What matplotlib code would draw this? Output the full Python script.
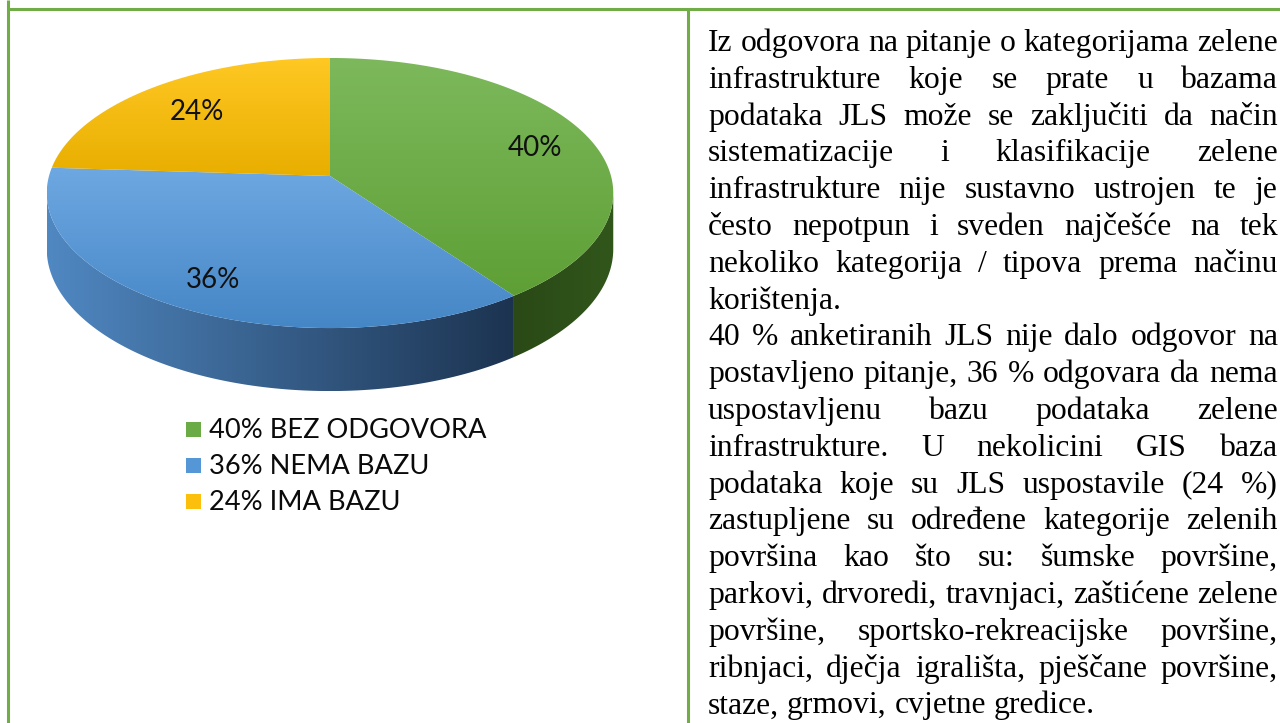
import numpy as np
import matplotlib
matplotlib.use("Agg")
import matplotlib.pyplot as plt
from matplotlib.patches import Polygon, Rectangle
from matplotlib.colors import LinearSegmentedColormap

# pie data
shares = [40, 36, 24]
legend_labels = ["40% BEZ ODGOVORA", "36% NEMA BAZU", "24% IMA BAZU"]
pct_labels = ["40%", "36%", "24%"]
base_colors = ["#6AAB45", "#5596D6", "#FCBF0C"]
top_grads = [("#7DB95C", "#5E9F35"), ("#6EA8E2", "#4586C6"), ("#FFC823", "#E8AE00")]
side_grads = [("#2A4916", "#31561B"), ("#5088C2", "#1C3350"), ("#C89600", "#9A7200")]

# text in the right cell (line breaks as in the reference)
text_lines = [
    "Iz odgovora na pitanje o kategorijama zelene",
    "infrastrukture koje se prate u bazama",
    "podataka JLS može se zaključiti da način",
    "sistematizacije i klasifikacije zelene",
    "infrastrukture nije sustavno ustrojen te je",
    "često nepotpun i sveden najčešće na tek",
    "nekoliko kategorija / tipova prema načinu",
    "korištenja.",
    "40 % anketiranih JLS nije dalo odgovor na",
    "postavljeno pitanje, 36 % odgovara da nema",
    "uspostavljenu bazu podataka zelene",
    "infrastrukture. U nekolicini GIS baza",
    "podataka koje su JLS uspostavile (24 %)",
    "zastupljene su određene kategorije zelenih",
    "površina kao što su: šumske površine,",
    "parkovi, drvoredi, travnjaci, zaštićene zelene",
    "površine, sportsko-rekreacijske površine,",
    "ribnjaci, dječja igrališta, pješčane površine,",
    "staze, grmovi, cvjetne gredice.",
]
para_ends = [7, 18]

W, H = 1280, 723
fig = plt.figure(figsize=(W / 100, H / 100), dpi=100)
ax = fig.add_axes([0, 0, 1, 1])
ax.set_xlim(0, W)
ax.set_ylim(H, 0)
ax.axis("off")

# table borders
green = "#70AD47"
ax.plot([8, 8], [0, H], color=green, lw=2.2, solid_capstyle="butt")
ax.plot([8, W], [9, 9], color=green, lw=2.2, solid_capstyle="butt")
ax.plot([688, 688], [9, H], color=green, lw=2.2, solid_capstyle="butt")

# perspective pie geometry
cx, cy = 330, 176
A, B, k = 281, 132.9, 0.126
depth = 63 * (1 - k)


def proj(t, r=1.0, drop=False):
    u = r * np.cos(np.radians(t))
    v = r * np.sin(np.radians(t))
    s = 1.0 / (1 + k * v)
    x = cx + A * u * s
    y = cy - B * v * s
    if drop:
        y = y + depth * s
    return x, y


def grad_fill(pts, c0, c1, vertical=True):
    cmap = LinearSegmentedColormap.from_list("g", [c0, c1])
    poly = Polygon(pts, closed=True, facecolor="none", edgecolor="none")
    ax.add_patch(poly)
    x0, x1 = pts[:, 0].min(), pts[:, 0].max()
    y0, y1 = pts[:, 1].min(), pts[:, 1].max()
    g = np.linspace(0, 1, 256)
    img = g[:, None] if vertical else g[None, :]
    im = ax.imshow(img, cmap=cmap, extent=[x0, x1, y1, y0], aspect="auto",
                   interpolation="bilinear", zorder=2)
    im.set_clip_path(poly)


# slice angles: clockwise from 12 o'clock
bounds = 90 - np.concatenate([[0], np.cumsum(shares)]) * 3.6
t_left = -180 + np.degrees(np.arcsin(k))
t_right = -np.degrees(np.arcsin(k))

# side walls
for i in range(len(shares)):
    hi, lo = bounds[i], bounds[i + 1]
    a0, a1 = max(lo, t_left), min(hi, t_right)
    if a1 <= a0:
        continue
    ts = np.linspace(a0, a1, 120)
    xt, yt = proj(ts)
    xb, yb = proj(ts[::-1], drop=True)
    pts = np.column_stack([np.concatenate([xt, xb]), np.concatenate([yt, yb])])
    grad_fill(pts, side_grads[i][0], side_grads[i][1], vertical=False)

# top faces
for i in range(len(shares)):
    ts = np.linspace(bounds[i], bounds[i + 1], 200)
    xs, ys = proj(ts)
    pts = np.column_stack([np.concatenate([[cx], xs]), np.concatenate([[cy], ys])])
    grad_fill(pts, top_grads[i][0], top_grads[i][1], vertical=True)

# percentage labels
label_r = [0.79, 0.79, 0.74]
for i in range(len(shares)):
    mid = (bounds[i] + bounds[i + 1]) / 2
    lx, ly = proj(mid, r=label_r[i])
    ax.text(lx, ly + 3, pct_labels[i], fontsize=20, family="Lato", color="#111111",
            ha="center", va="center", zorder=5)

# legend
for i, lab in enumerate(legend_labels):
    ry = 430 + 36 * i
    ax.add_patch(Rectangle((186, ry - 8), 15, 15, facecolor=base_colors[i],
                           edgecolor="none", zorder=5))
    ax.text(209, ry, lab, fontsize=19.6, family="Lato", color="#0A0A0A",
            ha="left", va="center", zorder=5)

# justified text block
fig.canvas.draw()
renderer = fig.canvas.get_renderer()
x_left, x_right = 708, 1278
fs = 22.8


def word_width(w, size):
    t = ax.text(0, 0, w, fontsize=size, family="Liberation Serif")
    wd = t.get_window_extent(renderer).width
    t.remove()
    return wd


space_w = word_width("a a", fs) - word_width("aa", fs)
natural = max(sum(word_width(w, fs) for w in ln.split()) + space_w * (len(ln.split()) - 1)
              for ln in text_lines)
if natural > (x_right - x_left):
    fs = fs * (x_right - x_left) / natural
    space_w = word_width("a a", fs) - word_width("aa", fs)

for j, ln in enumerate(text_lines):
    y = 51 + 36.8 * j
    words = ln.split()
    widths = [word_width(w, fs) for w in words]
    if j in para_ends or len(words) == 1:
        gap = space_w
    else:
        gap = (x_right - x_left - sum(widths)) / (len(words) - 1)
    x = x_left
    for w, wd in zip(words, widths):
        ax.text(x, y, w, fontsize=fs, family="Liberation Serif", color="#000000",
                ha="left", va="baseline")
        x += wd + gap

fig.savefig("out.png", dpi=100)
